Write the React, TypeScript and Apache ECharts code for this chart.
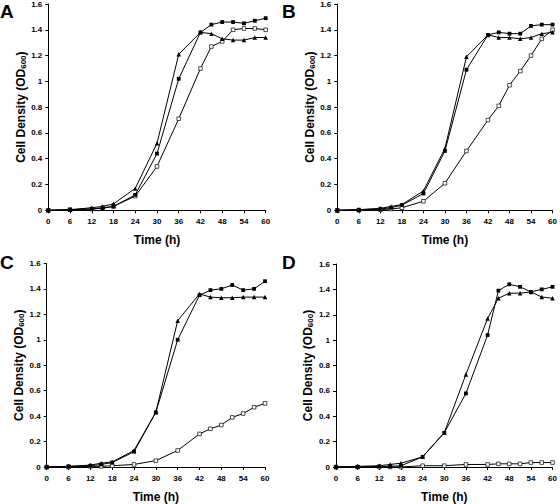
import React, { useEffect, useRef } from "react";
import * as echarts from "echarts";

const times = [0, 6, 12, 15, 18, 24, 30, 36, 42, 45, 48, 51, 54, 57, 60];
const panelLabels = ["A", "B", "C", "D"];

// Panel A
const aFilled = [0, 0.005, 0.01, 0.015, 0.03, 0.12, 0.44, 1.02, 1.38, 1.44, 1.46, 1.46, 1.45, 1.47, 1.49];
const aTriangle = [0, 0.005, 0.02, 0.03, 0.05, 0.17, 0.52, 1.21, 1.38, 1.37, 1.33, 1.32, 1.32, 1.34, 1.34];
const aOpen = [0, 0.005, 0.01, 0.02, 0.03, 0.11, 0.34, 0.71, 1.1, 1.27, 1.31, 1.4, 1.41, 1.41, 1.4];
// Panel B
const bFilled = [0, 0.005, 0.01, 0.02, 0.04, 0.13, 0.46, 1.09, 1.36, 1.38, 1.37, 1.37, 1.43, 1.44, 1.44];
const bTriangle = [0, 0.005, 0.015, 0.03, 0.045, 0.15, 0.48, 1.19, 1.36, 1.34, 1.34, 1.33, 1.34, 1.37, 1.38];
const bOpen = [0, 0, 0.005, 0.01, 0.02, 0.07, 0.21, 0.46, 0.7, 0.81, 0.97, 1.08, 1.2, 1.33, 1.4];
// Panel C
const cFilled = [0, 0.005, 0.01, 0.02, 0.035, 0.12, 0.43, 1.0, 1.35, 1.39, 1.4, 1.43, 1.39, 1.4, 1.46];
const cTriangle = [0, 0.005, 0.015, 0.03, 0.04, 0.13, 0.43, 1.15, 1.36, 1.335, 1.33, 1.33, 1.335, 1.335, 1.335];
const cOpen = [0, 0, 0.005, 0.005, 0.01, 0.02, 0.05, 0.13, 0.26, 0.3, 0.33, 0.39, 0.42, 0.47, 0.5];
// Panel D
const dFilled = [0, 0, 0.005, 0.005, 0.01, 0.08, 0.27, 0.58, 1.04, 1.39, 1.44, 1.42, 1.38, 1.4, 1.42];
const dTriangle = [0, 0.005, 0.01, 0.02, 0.03, 0.08, 0.27, 0.73, 1.17, 1.33, 1.37, 1.37, 1.38, 1.34, 1.33];
const dOpen = [0, 0, 0, 0, 0, 0.01, 0.01, 0.02, 0.02, 0.025, 0.025, 0.025, 0.035, 0.035, 0.035];

const panels = [
  { filled: aFilled, triangle: aTriangle, open: aOpen },
  { filled: bFilled, triangle: bTriangle, open: bOpen },
  { filled: cFilled, triangle: cTriangle, open: cOpen },
  { filled: dFilled, triangle: dTriangle, open: dOpen },
];

const grids = [
  { left: 48.3, top: 3.4, width: 217.4, height: 206.9 },
  { left: 337.3, top: 3.4, width: 218, height: 206.9 },
  { left: 46.7, top: 263.4, width: 218.3, height: 207.3 },
  { left: 336, top: 264, width: 218, height: 207.3 },
];
const labelPos = [
  { x: 0, y: 11.5 },
  { x: 282, y: 11.5 },
  { x: 0, y: 262 },
  { x: 282, y: 262 },
];

const FONT = "'Liberation Sans', Arial, sans-serif";

export default function App() {
  const ref = useRef<HTMLDivElement>(null);
  useEffect(() => {
    if (!ref.current) return;
    const chart = echarts.init(ref.current, undefined, { renderer: "svg" });
    const xAxes: any[] = [];
    const yAxes: any[] = [];
    const series: any[] = [];
    panels.forEach((p, i) => {
      xAxes.push({
        type: "value",
        gridIndex: i,
        min: 0,
        max: 60,
        interval: 6,
        name: "Time (h)",
        nameLocation: "middle",
        nameGap: 24,
        nameTextStyle: { fontFamily: FONT, fontWeight: "bold", fontSize: 12, color: "#000" },
        axisLine: { lineStyle: { color: "#000", width: 1 } },
        axisTick: { show: true, inside: false, length: 3, lineStyle: { color: "#000" } },
        axisLabel: { fontFamily: FONT, fontWeight: "bold", fontSize: 8, color: "#000", margin: 7 },
        splitLine: { show: false },
      });
      yAxes.push({
        type: "value",
        gridIndex: i,
        min: 0,
        max: 1.6,
        interval: 0.2,
        name: "Cell Density (OD{sub|600})",
        nameLocation: "middle",
        nameGap: 19,
        nameTextStyle: {
          fontFamily: FONT,
          fontWeight: "bold",
          fontSize: 12,
          color: "#000",
          rich: {
            sub: { fontFamily: FONT, fontWeight: "bold", fontSize: 8, color: "#000", verticalAlign: "bottom", padding: [5, 0, 0, 0] },
          },
        },
        axisLine: { show: true, lineStyle: { color: "#000", width: 1 } },
        axisTick: { show: true, inside: false, length: 3, lineStyle: { color: "#000" } },
        axisLabel: {
          fontFamily: FONT,
          fontWeight: "bold",
          fontSize: 8,
          color: "#000",
          margin: 6,
          formatter: (v: number) => String(Math.round(v * 10) / 10),
        },
        splitLine: { show: false },
      });
      const mk = (data: number[], symbol: string, size: number, fill: string, name: string) => ({
        type: "line",
        name,
        xAxisIndex: i,
        yAxisIndex: i,
        data: times.map((t, k) => [t, data[k]]),
        symbol,
        symbolSize: size,
        showAllSymbol: true,
        lineStyle: { color: "#000", width: 1 },
        itemStyle: { color: fill, borderColor: "#222", borderWidth: fill === "#fff" ? 0.8 : 0 },
        emphasis: { disabled: true },
      });
      series.push(mk(p.open, "rect", 3.6, "#fff", "open"));
      series.push(mk(p.triangle, "triangle", 4.5, "#000", "triangle"));
      series.push(mk(p.filled, "rect", 3.8, "#000", "filled"));
    });
    chart.setOption({
      animation: false,
      backgroundColor: "#fff",
      grid: grids,
      xAxis: xAxes,
      yAxis: yAxes,
      series,
      graphic: panelLabels.map((l, i) => ({
        type: "text",
        x: labelPos[i].x,
        y: labelPos[i].y,
        style: {
          text: l,
          font: `bold 19px ${FONT}`,
          fill: "#000",
          textVerticalAlign: "middle",
        },
      })),
    });
    return () => chart.dispose();
  }, []);
  return <div ref={ref} style={{ width: 560, height: 504, position: "absolute", left: 0, top: 0 }} />;
}
